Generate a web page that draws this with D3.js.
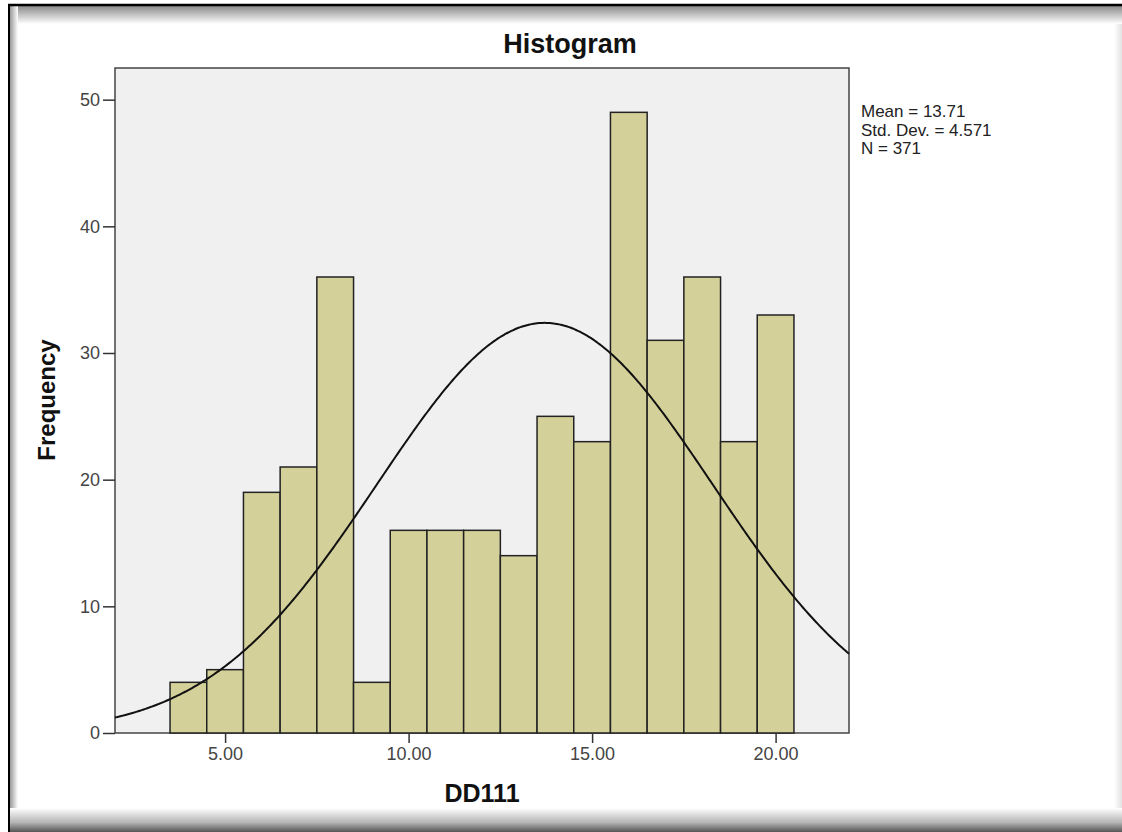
<!DOCTYPE html>
<html>
<head>
<meta charset="utf-8">
<script src="https://cdn.jsdelivr.net/npm/d3@7"></script>
<style>
  html, body { margin: 0; padding: 0; background: #fff; }
  svg { display: block; }
  text { font-family: Arial, "Liberation Sans", sans-serif; }
</style>
</head>
<body>
<svg id="chart" width="1122" height="832"></svg>
<script>
// Histogram of DD111: bins of width 1, from 3.5 to 20.5
const binStarts = [3.5, 4.5, 5.5, 6.5, 7.5, 8.5, 9.5, 10.5, 11.5, 12.5, 13.5, 14.5, 15.5, 16.5, 17.5, 18.5, 19.5];
const binWidth = 1;
const frequencies = [4, 5, 19, 21, 36, 4, 16, 16, 16, 14, 25, 23, 49, 31, 36, 23, 33];
const xTicks = [5, 10, 15, 20];
const yTicks = [0, 10, 20, 30, 40, 50];
const stats = { mean: 13.71, sd: 4.571, n: 371 };
const statLines = ["Mean = 13.71", "Std. Dev. = 4.571", "N = 371"];

const svg = d3.select("#chart");
const W = 1122, H = 832;

// Window-style frame with soft shadows
const defs = svg.append("defs");
const gTop = defs.append("linearGradient").attr("id", "shadeTop").attr("x1", 0).attr("y1", 0).attr("x2", 0).attr("y2", 1);
gTop.append("stop").attr("offset", 0).attr("stop-color", "#8a8a8a");
gTop.append("stop").attr("offset", 1).attr("stop-color", "#ffffff");
const gBot = defs.append("linearGradient").attr("id", "shadeBot").attr("x1", 0).attr("y1", 0).attr("x2", 0).attr("y2", 1);
gBot.append("stop").attr("offset", 0).attr("stop-color", "#ffffff");
gBot.append("stop").attr("offset", 0.6).attr("stop-color", "#b5b5b5");
gBot.append("stop").attr("offset", 1).attr("stop-color", "#555555");
const gLeft = defs.append("linearGradient").attr("id", "shadeLeft").attr("x1", 0).attr("y1", 0).attr("x2", 1).attr("y2", 0);
gLeft.append("stop").attr("offset", 0).attr("stop-color", "#9a9a9a");
gLeft.append("stop").attr("offset", 1).attr("stop-color", "#ffffff");
const gRight = defs.append("linearGradient").attr("id", "shadeRight").attr("x1", 0).attr("y1", 0).attr("x2", 1).attr("y2", 0);
gRight.append("stop").attr("offset", 0).attr("stop-color", "#ffffff");
gRight.append("stop").attr("offset", 1).attr("stop-color", "#e2e2e2");

svg.append("rect").attr("x", 0).attr("y", 0).attr("width", W).attr("height", H).attr("fill", "#ffffff");
svg.append("rect").attr("x", W - 8).attr("y", 6).attr("width", 8).attr("height", H - 6).attr("fill", "url(#shadeRight)");
svg.append("rect").attr("x", 8).attr("y", 6).attr("width", W - 8).attr("height", 18).attr("fill", "url(#shadeTop)");
svg.append("rect").attr("x", 10).attr("y", 6).attr("width", 8).attr("height", H - 6).attr("fill", "url(#shadeLeft)");
svg.append("rect").attr("x", 8).attr("y", 808).attr("width", W - 8).attr("height", 24).attr("fill", "url(#shadeBot)");
svg.append("line").attr("x1", 8).attr("x2", W).attr("y1", 5).attr("y2", 5).attr("stroke", "#000").attr("stroke-width", 2.5);
svg.append("line").attr("x1", 9).attr("x2", 9).attr("y1", 5).attr("y2", H).attr("stroke", "#000").attr("stroke-width", 2);

// Plot area
const plot = { left: 115, top: 68, right: 849, bottom: 733 };
const x = d3.scaleLinear().domain([2, 22]).range([plot.left, plot.right]);
const y = d3.scaleLinear().domain([0, 52.5]).range([plot.bottom, plot.top]);

svg.append("rect")
  .attr("x", plot.left).attr("y", plot.top)
  .attr("width", plot.right - plot.left).attr("height", plot.bottom - plot.top)
  .attr("fill", "#f0f0f0").attr("stroke", "#444").attr("stroke-width", 1.5);

// Bars
svg.append("g").selectAll("rect")
  .data(binStarts.map((s, i) => ({ x0: s, x1: s + binWidth, f: frequencies[i] })))
  .join("rect")
  .attr("x", d => x(d.x0))
  .attr("y", d => y(d.f))
  .attr("width", d => x(d.x1) - x(d.x0))
  .attr("height", d => y(0) - y(d.f))
  .attr("fill", "#d4d09a")
  .attr("stroke", "#222")
  .attr("stroke-width", 1.5);

// Normal curve scaled to counts
const pdf = v => Math.exp(-0.5 * Math.pow((v - stats.mean) / stats.sd, 2)) / (stats.sd * Math.sqrt(2 * Math.PI));
const curvePts = d3.range(2, 22.001, 0.05).map(v => [v, stats.n * binWidth * pdf(v)]);
svg.append("path")
  .datum(curvePts)
  .attr("fill", "none")
  .attr("stroke", "#111")
  .attr("stroke-width", 2)
  .attr("d", d3.line().x(d => x(d[0])).y(d => y(d[1])).curve(d3.curveBasis));

// Axes
const xAxis = svg.append("g")
  .attr("transform", `translate(0,${plot.bottom})`)
  .call(d3.axisBottom(x).tickValues(xTicks).tickFormat(d3.format(".2f")).tickSize(10).tickPadding(4));
const yAxis = svg.append("g")
  .attr("transform", `translate(${plot.left},0)`)
  .call(d3.axisLeft(y).tickValues(yTicks).tickSize(12).tickPadding(3));
[xAxis, yAxis].forEach(a => {
  a.attr("font-size", null).attr("font-family", null);
  a.select(".domain").remove();
  a.selectAll(".tick line").attr("stroke", "#333").attr("stroke-width", 1.5);
  a.selectAll(".tick text").attr("fill", "#444").style("font-size", "18px");
});

// Titles
svg.append("text").attr("x", 570).attr("y", 53)
  .attr("text-anchor", "middle").style("font-size", "27px").style("font-weight", "bold").attr("fill", "#111")
  .text("Histogram");
svg.append("text").attr("x", 482).attr("y", 802)
  .attr("text-anchor", "middle").style("font-size", "25px").style("font-weight", "bold").attr("fill", "#111")
  .text("DD111");
svg.append("text").attr("transform", `translate(55,400) rotate(-90)`)
  .attr("text-anchor", "middle").style("font-size", "24px").style("font-weight", "bold").attr("fill", "#111")
  .text("Frequency");

// Summary statistics
svg.append("g").selectAll("text")
  .data(statLines)
  .join("text")
  .attr("x", 861)
  .attr("y", (d, i) => 117 + i * 18.5)
  .style("font-size", "17px")
  .attr("fill", "#222")
  .text(d => d);
</script>
</body>
</html>
